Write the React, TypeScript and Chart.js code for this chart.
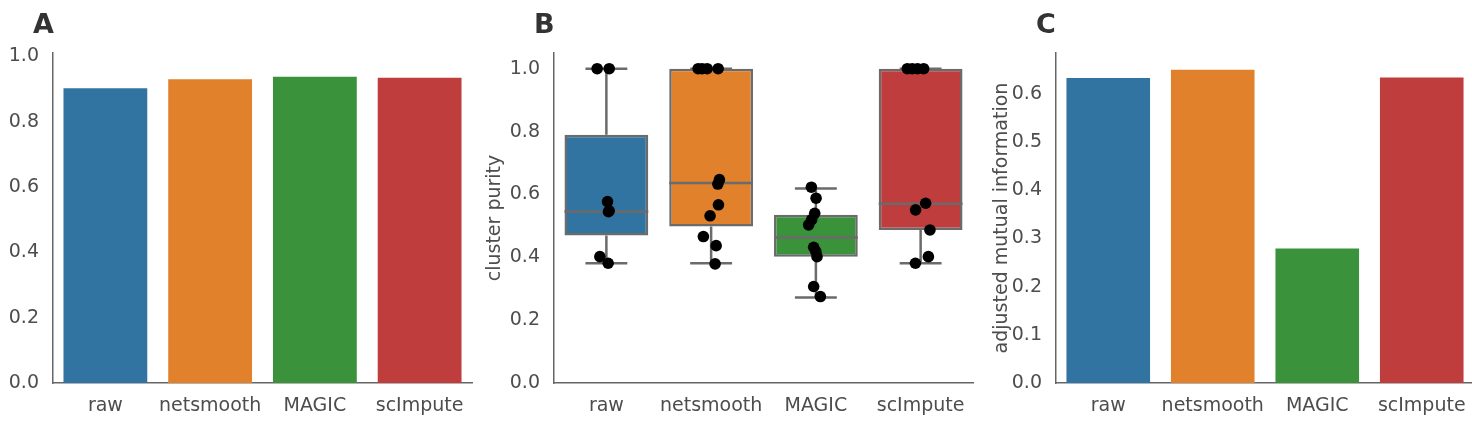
import React, { useEffect, useRef } from "react";
import { Chart, registerables } from "chart.js";

Chart.register(...registerables);

// ---- data ----
const methods = ["raw", "netsmooth", "MAGIC", "scImpute"];
const methodColors = ["#3274A1", "#E1812C", "#3A923A", "#C03D3E"];

// Panel A: score per method
const scoreA = [0.902, 0.93, 0.937, 0.934];
const ticksA = [0.0, 0.2, 0.4, 0.6, 0.8, 1.0];

// Panel B: cluster purity box statistics
const purityMin = [0.381, 0.381, 0.272, 0.381];
const purityQ1 = [0.469, 0.498, 0.402, 0.487];
const purityMedian = [0.546, 0.636, 0.463, 0.57];
const purityQ3 = [0.79, 1.0, 0.535, 1.0];
const purityMax = [1.0, 1.0, 0.619, 1.0];

// Panel B: individual cluster purities and their horizontal jitter
const purityRaw = [1.0, 1.0, 0.577, 0.548, 0.545, 0.402, 0.381];
const jitterRaw = [-0.088, 0.027, 0.011, 0.027, 0.02, -0.062, 0.017];
const purityNetsmooth = [1.0, 1.0, 1.0, 1.0, 0.647, 0.633, 0.567, 0.532, 0.466, 0.437, 0.379];
const jitterNetsmooth = [-0.124, -0.086, -0.038, 0.067, 0.079, 0.064, 0.07, -0.01, -0.074, 0.048, 0.038];
const purityMagic = [0.623, 0.588, 0.54, 0.52, 0.503, 0.432, 0.418, 0.402, 0.307, 0.275];
const jitterMagic = [-0.043, 0.002, -0.011, -0.04, -0.069, -0.021, 0.0, 0.011, -0.021, 0.043];
const purityScimpute = [1.0, 1.0, 1.0, 1.0, 0.572, 0.551, 0.487, 0.402, 0.381];
const jitterScimpute = [-0.127, -0.08, -0.029, 0.029, 0.048, -0.048, 0.089, 0.074, -0.05];
const ticksB = [0.0, 0.2, 0.4, 0.6, 0.8, 1.0];

// Panel C: adjusted mutual information per method
const amiC = [0.633, 0.65, 0.279, 0.634];
const ticksC = [0.0, 0.1, 0.2, 0.3, 0.4, 0.5, 0.6];

// ---- styling ----
const FONT = '"DejaVu Sans", "Liberation Sans", sans-serif';
const TEXT = "#4d4d4d";
const SPINE = "#666666";
const BOX_LINE = "#6b6b6b";

Chart.defaults.font.family = FONT;
Chart.defaults.font.size = 19;
Chart.defaults.color = TEXT;

const panelLetter = {
  id: "panelLetter",
  afterDraw(chart: any, _args: any, opts: any) {
    const ctx = chart.ctx;
    ctx.save();
    ctx.font = `bold 27px ${FONT}`;
    ctx.fillStyle = "#333333";
    ctx.textAlign = "left";
    ctx.textBaseline = "alphabetic";
    ctx.fillText(opts.text, chart.chartArea.left - 20, 33);
    ctx.restore();
  },
};

function xScale() {
  return {
    type: "category",
    offset: true,
    grid: { display: false, drawTicks: false },
    border: { display: true, color: SPINE, width: 1.5 },
    ticks: { padding: 12, color: TEXT, maxRotation: 0, autoSkip: false },
    afterFit: (s: any) => {
      s.height = 40;
    },
  };
}

function yScale(max: number, ticks: number[], width: number, title?: string, titlePad?: number) {
  return {
    type: "linear",
    min: 0,
    max,
    grid: { display: false, drawTicks: false },
    border: { display: true, color: SPINE, width: 1.5 },
    ticks: {
      padding: 14,
      color: TEXT,
      callback: (v: any) => Number(v).toFixed(1),
    },
    afterBuildTicks: (s: any) => {
      s.ticks = ticks.map((v) => ({ value: v }));
    },
    afterFit: (s: any) => {
      s.width = width;
    },
    title: title
      ? { display: true, text: title, color: TEXT, font: { size: 19 }, padding: { top: titlePad ?? 0, bottom: 0 } }
      : { display: false },
  };
}

function baseOptions(letter: string, padRight: number) {
  return {
    responsive: false,
    animation: false as const,
    events: [] as any[],
    layout: { padding: { top: 53, right: padRight, left: 0, bottom: 0 } },
    plugins: {
      legend: { display: false },
      tooltip: { enabled: false },
      panelLetter: { text: letter },
    },
  };
}

function barPanel(values: number[], ticks: number[], max: number, yWidth: number, letter: string, padRight: number, title?: string, titlePad?: number) {
  return {
    type: "bar",
    data: {
      labels: methods,
      datasets: [
        {
          data: values,
          backgroundColor: methodColors,
          borderWidth: 0,
          barPercentage: 0.8,
          categoryPercentage: 1,
        },
      ],
    },
    options: {
      ...baseOptions(letter, padRight),
      scales: { x: xScale(), y: yScale(max, ticks, yWidth, title, titlePad) },
    },
    plugins: [panelLetter],
  };
}

function whiskerSegments() {
  const pts: { x: number; y: number | null }[] = [];
  const gap = (i: number) => pts.push({ x: i, y: null });
  methods.forEach((_, i) => {
    // lower whisker and cap
    pts.push({ x: i, y: purityQ1[i] }, { x: i, y: purityMin[i] });
    gap(i);
    pts.push({ x: i - 0.2, y: purityMin[i] }, { x: i + 0.2, y: purityMin[i] });
    gap(i);
    // upper whisker and cap
    pts.push({ x: i, y: purityQ3[i] }, { x: i, y: purityMax[i] });
    gap(i);
    pts.push({ x: i - 0.2, y: purityMax[i] }, { x: i + 0.2, y: purityMax[i] });
    gap(i);
    // median
    pts.push({ x: i - 0.4, y: purityMedian[i] }, { x: i + 0.4, y: purityMedian[i] });
    gap(i);
  });
  return pts;
}

function stripPoints() {
  const values = [purityRaw, purityNetsmooth, purityMagic, purityScimpute];
  const jitters = [jitterRaw, jitterNetsmooth, jitterMagic, jitterScimpute];
  const pts: { x: number; y: number }[] = [];
  values.forEach((vals, i) => {
    vals.forEach((v, k) => pts.push({ x: i + jitters[i][k], y: v }));
  });
  return pts;
}

function boxPanel() {
  return {
    type: "bar",
    data: {
      labels: methods,
      datasets: [
        {
          type: "bar",
          data: methods.map((_, i) => [purityQ1[i], purityQ3[i]]),
          backgroundColor: methodColors,
          borderColor: BOX_LINE,
          borderWidth: 2.5,
          borderSkipped: false,
          barPercentage: 0.8,
          categoryPercentage: 1,
          grouped: false,
          xAxisID: "x",
          order: 3,
        },
        {
          type: "line",
          data: whiskerSegments(),
          xAxisID: "x2",
          borderColor: BOX_LINE,
          borderWidth: 2.5,
          pointRadius: 0,
          spanGaps: false,
          fill: false,
          tension: 0,
          order: 2,
        },
        {
          type: "scatter",
          data: stripPoints(),
          xAxisID: "x2",
          backgroundColor: "#000000",
          borderWidth: 0,
          pointRadius: 5.8,
          order: 1,
        },
      ],
    },
    options: {
      ...baseOptions("B", 7),
      scales: {
        x: xScale(),
        x2: {
          type: "linear",
          axis: "x",
          position: "bottom",
          display: false,
          offset: false,
          bounds: "data",
          min: -0.5,
          max: 3.5,
          grace: 0,
        },
        y: yScale(1.05, ticksB, 74, "cluster purity", 3.6),
      },
    },
    plugins: [panelLetter],
  };
}

function Panel({ left, width, config }: { left: number; width: number; config: any }) {
  const ref = useRef<HTMLCanvasElement | null>(null);
  useEffect(() => {
    if (!ref.current) return;
    const chart = new Chart(ref.current, config);
    return () => chart.destroy();
  }, []);
  return (
    <div style={{ position: "absolute", left, top: 0, width, height: 423 }}>
      <canvas ref={ref} width={width} height={423} style={{ display: "block", width, height: 423 }} />
    </div>
  );
}

export default function App() {
  return (
    <div
      style={{
        position: "fixed",
        left: 0,
        top: 0,
        width: 1472,
        height: 423,
        overflow: "hidden",
        background: "#ffffff",
      }}
    >
      <Panel left={0} width={480} config={barPanel(scoreA, ticksA, 1.01, 53, "A", 8)} />
      <Panel left={480} width={500} config={boxPanel()} />
      <Panel
        left={970}
        width={510}
        config={barPanel(amiC, ticksC, 0.685, 86, "C", 6, "adjusted mutual information", 20.6)}
      />
    </div>
  );
}
